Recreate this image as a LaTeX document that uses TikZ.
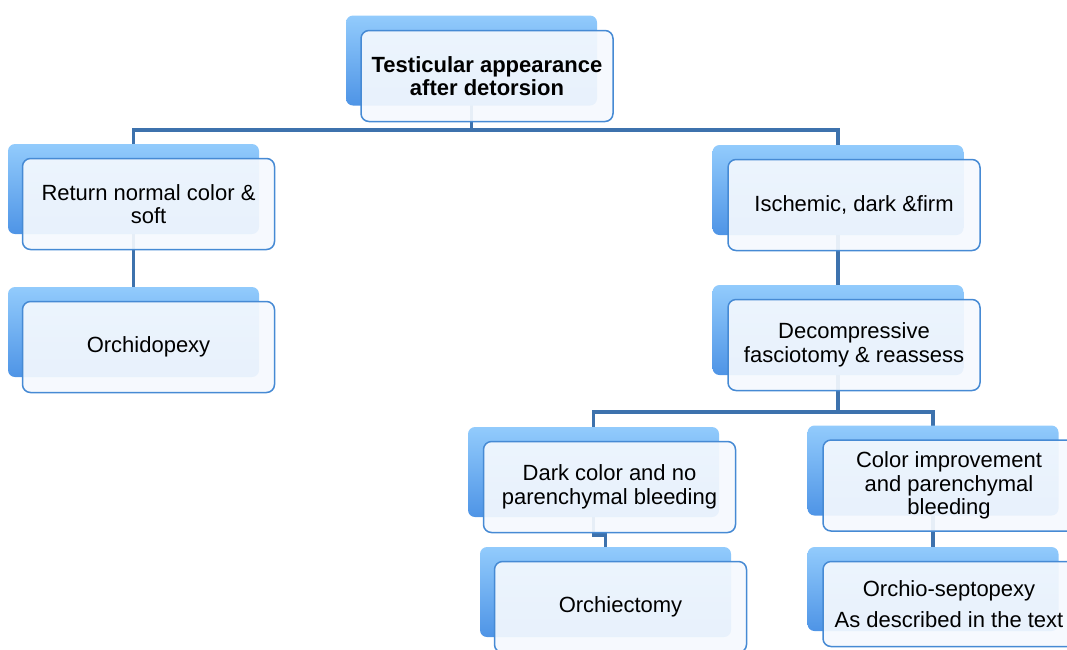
\documentclass[tikz,border=0pt]{standalone}
\usepackage{fontspec}
\setmainfont{Liberation Sans}
\usetikzlibrary{backgrounds}

\definecolor{linkblue}{RGB}{61,114,173}
\definecolor{edgeblue}{RGB}{70,138,212}
\definecolor{shadetop}{RGB}{146,203,252}
\definecolor{shadebot}{RGB}{78,148,230}
\definecolor{paneblue}{RGB}{245,249,254}

\begin{document}
\begin{tikzpicture}[x=1pt, y=-1pt,
  every node/.style={font=\fontsize{22}{23.5}\selectfont}, % Arial-like text
  back/.style={rectangle, rounded corners=7pt, minimum width=251pt,
    minimum height=90pt, top color=shadetop, bottom color=shadebot},
  front/.style={rectangle, rounded corners=8pt, draw=edgeblue, line width=1.5pt,
    fill=paneblue, fill opacity=0.92, text opacity=1,
    minimum width=252pt, minimum height=91pt, align=center},
  link/.style={draw=linkblue, line width=3.5pt}]
  \useasboundingbox (0,0) rectangle (1067,649);

  % Shaded back plates
  \node[back] (topB)    at (471.5,60.5) {};
  \node[back] (retB)    at (133.5,189)  {};
  \node[back] (orchB)   at (133.5,332)  {};
  \node[back] (ischB)   at (838,190)    {};
  \node[back] (decompB) at (838,330)    {};
  \node[back] (darkB)   at (593.5,472)  {};
  \node[back] (orchieB) at (605.5,592)  {};
  \node[back] (colB)    at (933,470.5)  {};
  \node[back, minimum height=84pt] (orsepB) at (933,589) {};

  % Front panes with the texts
  \node[front, font=\fontsize{22}{23.5}\selectfont\bfseries] (topF)
    at ([shift={(15.5,15.5)}]topB.center) {Testicular appearance\\after detorsion};
  \node[front] (retF)    at ([shift={(15,15)}]retB.center)    {Return normal color \&\\soft};
  \node[front] (orchF)   at ([shift={(15,15)}]orchB.center)   {Orchidopexy};
  \node[front] (ischF)   at ([shift={(16,15)}]ischB.center)   {Ischemic, dark \&firm};
  \node[front] (decompF) at ([shift={(16,15)}]decompB.center) {Decompressive\\fasciotomy \& reassess};
  \node[front] (darkF)   at ([shift={(16,15)}]darkB.center)   {Dark color and no\\parenchymal bleeding};
  \node[front] (orchieF) at ([shift={(15,15)}]orchieB.center) {Orchiectomy};
  \node[front] (colF)    at ([shift={(16,15)}]colB.center)    {Color improvement\\and parenchymal\\bleeding};
  \node[front, minimum height=85pt] (orsepF) at ([shift={(16,15)}]orsepB.center)
    {Orchio-septopexy\\[7pt]As described in the text};

  % Connectors behind the boxes
  \begin{pgfonlayer}{background}
    \coordinate (busTop) at (471.5,130);
    \coordinate (busLow) at (838,412);
    \coordinate (jog)    at (593.5,535);
    \draw[link] (topB.center) -- (busTop) -| (retB.center);
    \draw[link] (busTop) -| (ischB.center);
    \draw[link] (retB.center) -- (orchB.center);
    \draw[link] (ischB.center) -- (decompB.center);
    \draw[link] (decompB.center) -- (busLow) -| (darkB.center);
    \draw[link] (busLow) -| (colB.center);
    \draw[link] (darkB.center) -- (jog) -| (orchieB.center);
    \draw[link] (colB.center) -- (orsepB.center);
  \end{pgfonlayer}
\end{tikzpicture}
\end{document}
